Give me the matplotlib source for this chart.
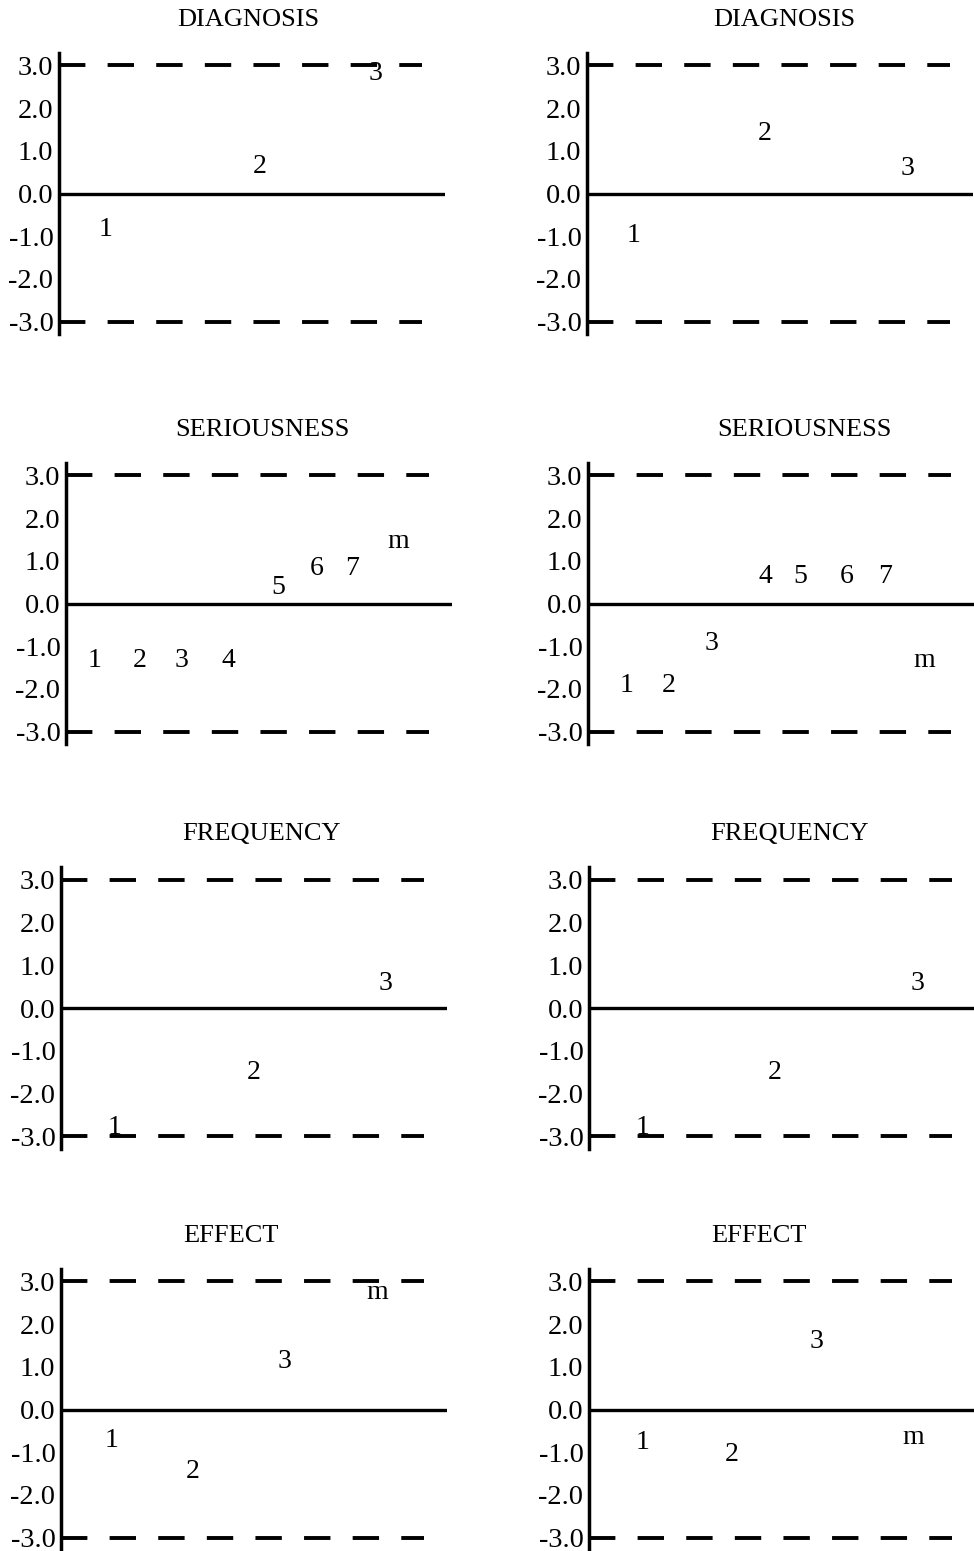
import matplotlib
matplotlib.use("Agg")
import matplotlib.pyplot as plt

plt.rcParams['font.family'] = ['Liberation Serif', 'DejaVu Serif']
plt.rcParams['lines.scale_dashes'] = False

# ---- data: panel titles, point labels, their x slot (0-1) and scale value ----
titles = ["DIAGNOSIS", "DIAGNOSIS", "SERIOUSNESS", "SERIOUSNESS",
          "FREQUENCY", "FREQUENCY", "EFFECT", "EFFECT"]

diag_l_labels = ["1", "2", "3"]
diag_l_x = [0.12, 0.52, 0.82]
diag_l_y = [-0.84, 0.63, 2.80]

diag_r_labels = ["1", "2", "3"]
diag_r_x = [0.12, 0.46, 0.83]
diag_r_y = [-0.98, 1.40, 0.58]

ser_l_labels = ["1", "2", "3", "4", "5", "6", "7", "m"]
ser_l_x = [0.075, 0.19, 0.30, 0.42, 0.55, 0.65, 0.74, 0.86]
ser_l_y = [-1.33, -1.33, -1.33, -1.33, 0.37, 0.81, 0.81, 1.45]

ser_r_labels = ["1", "2", "3", "4", "5", "6", "7", "m"]
ser_r_x = [0.10, 0.21, 0.32, 0.46, 0.55, 0.67, 0.77, 0.87]
ser_r_y = [-1.93, -1.93, -0.94, 0.63, 0.63, 0.63, 0.63, -1.33]

freq_l_labels = ["1", "2", "3"]
freq_l_x = [0.14, 0.50, 0.84]
freq_l_y = [-2.80, -1.50, 0.58]

freq_r_labels = ["1", "2", "3"]
freq_r_x = [0.14, 0.48, 0.85]
freq_r_y = [-2.80, -1.50, 0.58]

eff_l_labels = ["1", "2", "3", "m"]
eff_l_x = [0.13, 0.34, 0.58, 0.82]
eff_l_y = [-0.73, -1.45, 1.13, 2.73]

eff_r_labels = ["1", "2", "3", "m"]
eff_r_x = [0.14, 0.37, 0.59, 0.84]
eff_r_y = [-0.78, -1.06, 1.60, -0.65]

yticks = [3.0, 2.0, 1.0, 0.0, -1.0, -2.0, -3.0]

panels = [
    (diag_l_labels, diag_l_x, diag_l_y),
    (diag_r_labels, diag_r_x, diag_r_y),
    (ser_l_labels, ser_l_x, ser_l_y),
    (ser_r_labels, ser_r_x, ser_r_y),
    (freq_l_labels, freq_l_x, freq_l_y),
    (freq_r_labels, freq_r_x, freq_r_y),
    (eff_l_labels, eff_l_x, eff_l_y),
    (eff_r_labels, eff_r_x, eff_r_y),
]

# ---- layout (pixels) ----
W, H = 974, 1551
fig = plt.figure(figsize=(W / 100, H / 100), dpi=100)
fig.patch.set_facecolor("white")

spine_x = [59, 587, 66, 588, 61, 589, 61, 589]
zero_y = [193.5, 193.5, 603.5, 603.5, 1008, 1008, 1409.5, 1409.5]
title_cx = [0.49, 0.51, 0.51, 0.56, 0.52, 0.52, 0.44, 0.44]
ax_w = 386
ppu = 42.7
ylim = 3.3
ax_h = 2 * ylim * ppu

for i, (labels, xs, ys) in enumerate(panels):
    left = spine_x[i]
    top = zero_y[i] - ylim * ppu
    ax = fig.add_axes([left / W, 1 - (top + ax_h) / H, ax_w / W, ax_h / H])
    ax.set_xlim(0, 1)
    ax.set_ylim(-ylim, ylim)
    for s in ["top", "right", "bottom"]:
        ax.spines[s].set_visible(False)
    ax.spines["left"].set_linewidth(2.5)
    ax.set_xticks([])
    ax.set_yticks(yticks)
    ax.set_yticklabels([f"{t:.1f}" for t in yticks])
    ax.tick_params(axis="y", length=0, pad=4, labelsize=20.5)
    ax.axhline(0, xmin=0, xmax=1, color="black", lw=2.4)
    for v in (3.0, -3.0):
        ax.plot([0.0, 0.94], [v, v], color="black", lw=2.8,
                linestyle=(0, (19, 16)), solid_capstyle="butt",
                dash_capstyle="butt")
    for lab, x, y in zip(labels, xs, ys):
        ax.text(x, y, lab, ha="center", va="center", fontsize=20)
    ax.text(title_cx[i], ylim + 33 / ppu, titles[i], ha="center",
            va="center", fontsize=19, transform=ax.transData,
            clip_on=False)

fig.savefig("out.png", dpi=100, facecolor="white")
